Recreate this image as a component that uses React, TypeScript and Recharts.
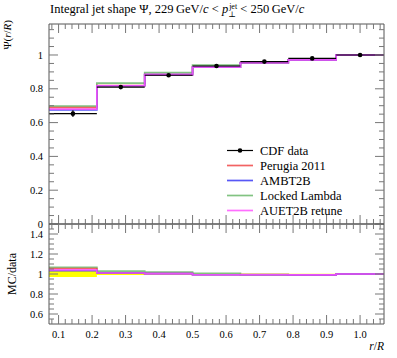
import React from 'react';
import { ComposedChart, Line, Area, Scatter, XAxis, YAxis, ErrorBar } from 'recharts';

const FONT = '"Liberation Serif", "DejaVu Serif", serif';
const FRAME = '#555';
const TICK = '#777';

// r/R bins: seven bins of width 1/7, centred on k/7
const binEdges = [1 / 14, 3 / 14, 5 / 14, 7 / 14, 9 / 14, 11 / 14, 13 / 14, 15 / 14];
const binCentres = [1 / 7, 2 / 7, 3 / 7, 4 / 7, 5 / 7, 6 / 7, 1];

const cdfData = [0.653, 0.81, 0.88, 0.935, 0.961, 0.98, 1.0];
const cdfErr = [0.02, 0.009, 0.004, 0.003, 0.002, 0.0015, 0.0005];
const perugia2011 = [0.689, 0.819, 0.884, 0.928, 0.955, 0.971, 1.0];
const ambt2b = [0.675, 0.818, 0.884, 0.928, 0.954, 0.971, 1.0];
const lockedLambda = [0.697, 0.833, 0.896, 0.94, 0.955, 0.972, 1.0];
const auet2b = [0.68, 0.818, 0.884, 0.928, 0.954, 0.971, 1.0];

// drawing order (last on top)
const mcSeries = [
  { key: 'locked', name: 'Locked Lambda', color: '#6cb86c', values: lockedLambda },
  { key: 'perugia', name: 'Perugia 2011', color: '#f04848', values: perugia2011 },
  { key: 'ambt2b', name: 'AMBT2B', color: '#3a3af5', values: ambt2b },
  { key: 'auet2b', name: 'AUET2B retune', color: '#ff55ff', values: auet2b },
];
const legendOrder = ['perugia', 'ambt2b', 'locked', 'auet2b'];

const xMajor = [0.1, 0.2, 0.3, 0.4, 0.5, 0.6, 0.7, 0.8, 0.9, 1.0];
const xTicks = Array.from({ length: 50 }, (_, i) => +(0.08 + i * 0.02).toFixed(2));
const yMainMajor = [0, 0.2, 0.4, 0.6, 0.8, 1];
const yMainTicks = Array.from({ length: 24 }, (_, i) => +(i * 0.05).toFixed(2));
const yRatioMajor = [0.6, 0.8, 1, 1.2, 1.4];
const yRatioTicks = Array.from({ length: 19 }, (_, i) => +(0.55 + i * 0.05).toFixed(2));

const X_DOMAIN = [1 / 14, 15 / 14];

const stepRows = binEdges.map((x, i) => {
  const j = Math.min(i, 6);
  const row: any = { x };
  mcSeries.forEach((s) => (row[s.key] = s.values[j]));
  return row;
});

const ratioRows = binEdges.map((x, i) => {
  const j = Math.min(i, 6);
  const row: any = { x, band: [1 - cdfErr[j] / cdfData[j], 1 + cdfErr[j] / cdfData[j]] };
  mcSeries.forEach((s) => (row[s.key] = s.values[j] / cdfData[j]));
  return row;
});

const dataPoints = binCentres.map((x, i) => ({ x, y: cdfData[i], xe: 1 / 14, ye: cdfErr[i] }));

type Side = 'bottom' | 'top' | 'left' | 'right';

function tickRenderer(side: Side, majors: number[], label?: (v: number) => string) {
  return (props: any) => {
    const { x, y, payload } = props;
    const v = payload.value;
    const major = majors.some((m) => Math.abs(m - v) < 1e-6);
    const len = major ? 9 : 5;
    let l = [x, y, x, y - len];
    if (side === 'top') l = [x, y, x, y + len];
    if (side === 'left') l = [x, y, x + len, y];
    if (side === 'right') l = [x, y, x - len, y];
    let txt = null;
    if (label && major) {
      txt =
        side === 'bottom' ? (
          <text x={x} y={y + 14} textAnchor="middle" fontSize={10.5} fontFamily={FONT} fill="#000">
            {label(v)}
          </text>
        ) : (
          <text x={x - 6} y={y} dy="0.35em" textAnchor="end" fontSize={10.5} fontFamily={FONT} fill="#000">
            {label(v)}
          </text>
        );
    }
    return (
      <g>
        <line x1={l[0]} y1={l[1]} x2={l[2]} y2={l[3]} stroke={TICK} strokeWidth={1} />
        {txt}
      </g>
    );
  };
}

const fmtY = (v: number) => String(+v.toFixed(2));
const fmtX = (v: number) => v.toFixed(1);

// axes are 1px thick so Recharts draws them; margins are reduced by 1px to match
function frameAxes(yDomain: number[], yTicks: number[], yMajor: number[], bottomLabels: boolean) {
  return [
    <XAxis key="b" xAxisId="b" dataKey="x" type="number" domain={X_DOMAIN} allowDataOverflow ticks={xTicks} interval={0}
      height={1} tickSize={0} tickMargin={0} tickLine={false} axisLine={{ stroke: FRAME }}
      tick={tickRenderer('bottom', xMajor, bottomLabels ? fmtX : undefined)} />,
    <XAxis key="t" xAxisId="t" orientation="top" dataKey="x" type="number" domain={X_DOMAIN} allowDataOverflow ticks={xTicks}
      interval={0} height={1} tickSize={0} tickMargin={0} tickLine={false} axisLine={{ stroke: FRAME }}
      tick={tickRenderer('top', xMajor)} />,
    <YAxis key="l" yAxisId="l" type="number" domain={yDomain} allowDataOverflow ticks={yTicks} interval={0} width={1}
      tickSize={0} tickMargin={0} tickLine={false} axisLine={{ stroke: FRAME }}
      tick={tickRenderer('left', yMajor, fmtY)} />,
    <YAxis key="r" yAxisId="r" orientation="right" type="number" domain={yDomain} allowDataOverflow ticks={yTicks}
      interval={0} width={1} tickSize={0} tickMargin={0} tickLine={false} axisLine={{ stroke: FRAME }}
      tick={tickRenderer('right', yMajor)} />,
  ];
}

function MainPanel() {
  return (
    <ComposedChart width={397} height={234} data={stepRows} margin={{ top: 23, right: 12, bottom: 9, left: 48 }}>
      {frameAxes([0, 1.1834], yMainTicks, yMainMajor, false)}
      {mcSeries.map((s) => (
        <Line key={s.key} xAxisId="b" yAxisId="l" type="stepAfter" dataKey={s.key} stroke={s.color}
          strokeWidth={1.7} strokeOpacity={0.85} dot={false} isAnimationActive={false} />
      ))}
      <Scatter xAxisId="b" yAxisId="l" data={dataPoints} dataKey="y" fill="#000" isAnimationActive={false}
        shape={(p: any) => <circle cx={p.cx} cy={p.cy} r={2.3} fill="#000" />}>
        <ErrorBar dataKey="xe" direction="x" width={0} stroke="#000" strokeWidth={1.1} />
        <ErrorBar dataKey="ye" direction="y" width={0} stroke="#000" strokeWidth={1.1} />
      </Scatter>
    </ComposedChart>
  );
}

function RatioPanel() {
  return (
    <ComposedChart width={397} height={358} data={ratioRows} margin={{ top: 223, right: 12, bottom: 33, left: 48 }}>
      {frameAxes([0.5, 1.5], yRatioTicks, yRatioMajor, true)}
      <Area xAxisId="b" yAxisId="l" type="stepAfter" dataKey="band" fill="#ffff00" fillOpacity={1} stroke="none"
        isAnimationActive={false} />
      {mcSeries.map((s) => (
        <Line key={s.key} xAxisId="b" yAxisId="l" type="stepAfter" dataKey={s.key} stroke={s.color}
          strokeWidth={1.7} strokeOpacity={0.85} dot={false} isAnimationActive={false} />
      ))}
    </ComposedChart>
  );
}

function Title() {
  return (
    <div style={{ position: 'absolute', left: 50, top: 1, fontFamily: FONT, fontSize: 12.5, whiteSpace: 'nowrap', lineHeight: '16px' }}>
      Integral jet shape Ψ, 229&thinsp;GeV/<i>c</i> &lt; <i>p</i>
      <span style={{ display: 'inline-flex', flexDirection: 'column', fontSize: 8, lineHeight: '8px', verticalAlign: 4, marginLeft: 1 }}>
        <span>jet</span>
        <span style={{ marginLeft: -1 }}>⊥</span>
      </span>{' '}
      &lt; 250&thinsp;GeV/<i>c</i>
    </div>
  );
}

function Labels() {
  const rows = [
    { name: 'CDF data', color: '#000', dot: true },
    ...legendOrder.map((k) => {
      const s = mcSeries.find((m) => m.key === k)!;
      return { name: s.name, color: s.color, dot: false };
    }),
  ];
  return (
    <svg width={397} height={358} style={{ position: 'absolute', left: 0, top: 0 }} fontFamily={FONT}>
      <text transform="translate(11,20) rotate(-90)" textAnchor="end" fontSize={11} fill="#000">
        Ψ(<tspan fontStyle="italic">r</tspan>/<tspan fontStyle="italic">R</tspan>)
      </text>
      <text transform="translate(16,274) rotate(-90)" textAnchor="middle" fontSize={12} fill="#000">
        MC/data
      </text>
      <text x={384} y={350} textAnchor="end" fontSize={11.5} fill="#000">
        <tspan fontStyle="italic">r</tspan>/<tspan fontStyle="italic">R</tspan>
      </text>
      {rows.map((r, i) => {
        const y = 150.5 + i * 15;
        return (
          <g key={r.name}>
            <line x1={227} y1={y} x2={253} y2={y} stroke={r.color} strokeWidth={r.dot ? 1.2 : 1.7} strokeOpacity={r.dot ? 1 : 0.85} />
            {r.dot && <circle cx={240} cy={y} r={2.3} fill="#000" />}
            <text x={260} y={y + 4} fontSize={12.5} fill="#000">
              {r.name}
            </text>
          </g>
        );
      })}
    </svg>
  );
}

export default function App() {
  return (
    <div style={{ position: 'absolute', left: 0, top: 0, width: 397, height: 358, background: '#fff' }}>
      <div style={{ position: 'absolute', left: 0, top: 0 }}>
        <MainPanel />
      </div>
      <div style={{ position: 'absolute', left: 0, top: 0 }}>
        <RatioPanel />
      </div>
      <Labels />
      <Title />
    </div>
  );
}
